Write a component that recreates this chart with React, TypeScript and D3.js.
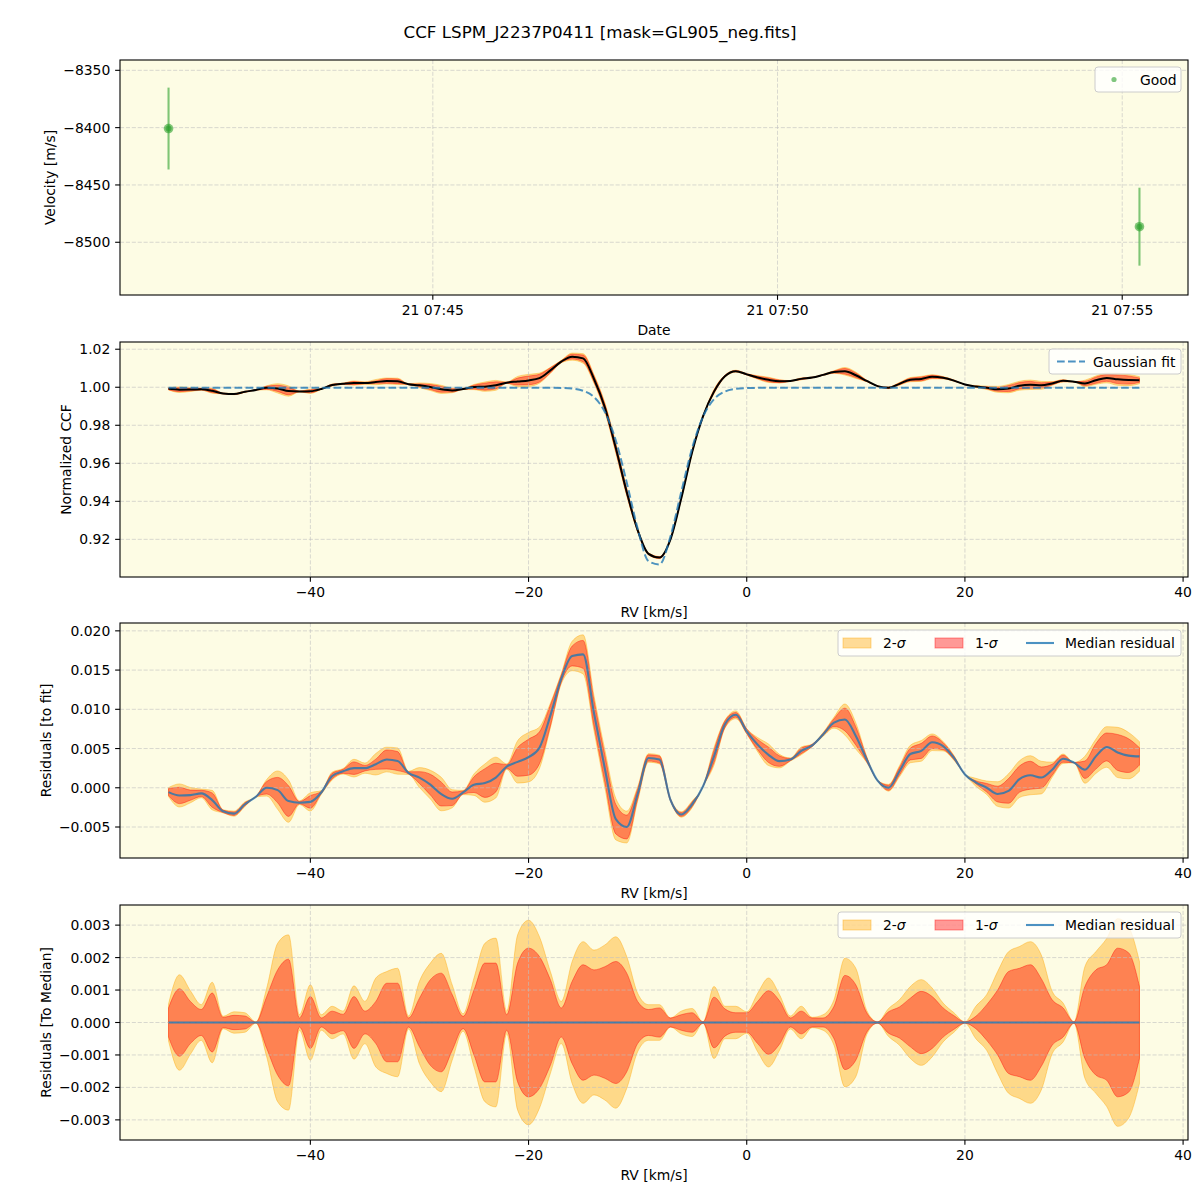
import React from 'react';
import * as d3 from 'd3';

// ---------------- DATA ----------------
const rv = [
  -53, -52, -51, -50, -49, -48, -47, -46, -45, -44, -43, -42, -41, -40, -39, -38, -37, -36,
  -35, -34, -33, -32, -31, -30, -29, -28, -27, -26, -25, -24, -23, -22, -21, -20, -19, -18,
  -17, -16, -15, -14, -13, -12, -11, -10, -9, -8, -7, -6, -5, -4, -3, -2, -1, 0,
  1, 2, 3, 4, 5, 6, 7, 8, 9, 10, 11, 12, 13, 14, 15, 16, 17, 18,
  19, 20, 21, 22, 23, 24, 25, 26, 27, 28, 29, 30, 31, 32, 33, 34, 35, 36,
];

const medianResidual = [
  -0.00055, -0.00098, -0.00094, -0.00072, -0.00157, -0.0030, -0.0033, -0.0021, -0.00115, 0.0, -0.0003, -0.0017, -0.0019, -0.0018, -0.0006, 0.0015, 0.0021, 0.0025,
  0.0025, 0.0030, 0.0036, 0.0034, 0.0019, 0.0013, 0.0004, -0.0008, -0.0014, -0.0006, 0.0004, 0.0006, 0.0013, 0.0027, 0.0033, 0.0039, 0.0051, 0.0092,
  0.0139, 0.0168, 0.0170, 0.0095, 0.0024, -0.0040, -0.0050, -0.0008, 0.0038, 0.0036, -0.0015, -0.0034, -0.0021, 0.0002, 0.0040, 0.0081, 0.0093, 0.0072,
  0.0055, 0.0042, 0.0034, 0.0036, 0.0047, 0.0054, 0.0068, 0.0083, 0.0087, 0.0066, 0.0036, 0.0009, 0.0, 0.0021, 0.0043, 0.0047, 0.0058, 0.0053,
  0.0038, 0.0017, 0.0007, 0.0, -0.0008, -0.0004, 0.0011, 0.0016, 0.0013, 0.0023, 0.0037, 0.0032, 0.0023, 0.0040, 0.0052, 0.0045, 0.0041, 0.0040,
];

const sigma1 = [
  0.00045, 0.00104, 0.00065, 0.0004, 0.00091, 0.00016, 0.00022, 0.0002, 0.00001, 0.0008, 0.00162, 0.00195, 0.00014, 0.0008, 0.00014, 0.00035, 0.00025, 0.0008,
  0.00035, 0.00065, 0.00121, 0.00121, 0.00014, 0.00075, 0.00132, 0.00152, 0.00086, 0.00019, 0.001, 0.00183, 0.00183, 0.00024, 0.00183, 0.00229, 0.00203, 0.00132,
  0.00045, 0.00127, 0.00178, 0.00162, 0.00172, 0.00188, 0.00152, 0.00065, 0.0004, 0.00045, 0.00014, 0.00024, 0.0003, 0.00002, 0.00078, 0.00042, 0.0003, 0.0003,
  0.00065, 0.00098, 0.00067, 0.00014, 0.00035, 0.00014, 0.00014, 0.0005, 0.00145, 0.00116, 0.0003, 0.00002, 0.00033, 0.00048, 0.00075, 0.00096, 0.0008, 0.00045,
  0.00021, 0.00002, 0.00019, 0.00055, 0.001, 0.00157, 0.00167, 0.00178, 0.00135, 0.0007, 0.00045, 0.00002, 0.00111, 0.00162, 0.00178, 0.00229, 0.00215, 0.00111,
];

const sigma2 = [
  0.00057, 0.00147, 0.00098, 0.00055, 0.00124, 0.00019, 0.00033, 0.0003, 0.00002, 0.00106, 0.00244, 0.0027, 0.00024, 0.00116, 0.00024, 0.0005, 0.00035, 0.00113,
  0.00065, 0.00137, 0.00157, 0.00167, 0.0002, 0.00127, 0.00183, 0.00213, 0.00116, 0.00027, 0.00137, 0.00244, 0.0026, 0.00035, 0.0027, 0.00315, 0.00264, 0.00157,
  0.00065, 0.00188, 0.00249, 0.00223, 0.00239, 0.00264, 0.00203, 0.0009, 0.00055, 0.00055, 0.00014, 0.00035, 0.00043, 0.00002, 0.00111, 0.0005, 0.0005, 0.00033,
  0.0009, 0.00137, 0.00086, 0.0002, 0.0005, 0.00016, 0.00024, 0.0007, 0.00198, 0.00167, 0.00037, 0.00002, 0.00043, 0.0007, 0.00111, 0.00132, 0.00106, 0.0006,
  0.0003, 0.00002, 0.0005, 0.00086, 0.00157, 0.00218, 0.00234, 0.00249, 0.00208, 0.00096, 0.0006, 0.00002, 0.00172, 0.00218, 0.00259, 0.0032, 0.00295, 0.00188,
];

// Gaussian fit parameters
const gaussAmp = 0.0943;
const gaussCenter = -8.4;
const gaussWidth = 2.3;
const gaussOffset = 0.9997;

// Velocity time series
const obsTimes = ['2019-10-21T07:41:10Z', '2019-10-21T07:55:15Z'];
const obsVelocity = [-8400.8, -8486.4];
const obsError = [35.7, 34.0];

// Tick values
const velTicks = [-8500, -8450, -8400, -8350];
const ccfTicks = [0.92, 0.94, 0.96, 0.98, 1.0, 1.02];
const resTicks = [-0.005, 0, 0.005, 0.01, 0.015, 0.02];
const medTicks = [-0.003, -0.002, -0.001, 0, 0.001, 0.002, 0.003];
const rvTicks = [-40, -20, 0, 20, 40];

// ---------------- LAYOUT ----------------
const W = 1200;
const H = 1200;
const L = 120;
const R = 1188;
const PH = 235;
const tops = [60, 342, 623, 905];
const FONT = '"DejaVu Sans", sans-serif';
const BG = '#fdfce4';
const FS = 13.9;
const TICK = 4.86;
const PAD = 9.7;
const ORANGE = '#ffa500';
const RED = '#ff0000';
const BLUE = '#1f77b4';
const GREEN = '#2ca02c';
const GRID = '#c0c0c0';
const CURVE = d3.curveMonotoneX;

const gauss = (v: number) =>
  gaussOffset - gaussAmp * Math.exp(-((v - gaussCenter) ** 2) / (2 * gaussWidth * gaussWidth));

const xRV = d3.scaleLinear().domain([-57.45, 40.45]).range([L, R]);

function Frame({ top }: { top: number }) {
  return <rect x={L} y={top} width={R - L} height={PH} fill="none" stroke="#000" strokeWidth={1.1} />;
}

function YAxis({ y, ticks, fmt }: { y: any; ticks: number[]; fmt: (n: number) => string }) {
  return (
    <g>
      {ticks.map((t) => (
        <g key={t}>
          <line x1={L} x2={R} y1={y(t)} y2={y(t)} stroke={GRID} strokeOpacity={0.75} strokeWidth={0.8} strokeDasharray="4.1,1.8" />
          <line x1={L - TICK} x2={L} y1={y(t)} y2={y(t)} stroke="#000" strokeWidth={1.1} />
          <text x={L - PAD} y={y(t)} textAnchor="end" dominantBaseline="central" fontSize={FS}>
            {fmt(t)}
          </text>
        </g>
      ))}
    </g>
  );
}

function XAxis({ x, ticks, fmt, top }: { x: any; ticks: any[]; fmt: (n: any) => string; top: number }) {
  const bottom = top + PH;
  return (
    <g>
      {ticks.map((t, i) => (
        <g key={i}>
          <line x1={x(t)} x2={x(t)} y1={top} y2={bottom} stroke={GRID} strokeOpacity={0.75} strokeWidth={0.8} strokeDasharray="4.1,1.8" />
          <line x1={x(t)} x2={x(t)} y1={bottom} y2={bottom + TICK} stroke="#000" strokeWidth={1.1} />
          <text x={x(t)} y={bottom + PAD} textAnchor="middle" dominantBaseline="hanging" fontSize={FS}>
            {fmt(t)}
          </text>
        </g>
      ))}
    </g>
  );
}

function Bands({ y, center }: { y: any; center: number[] }) {
  const idx = d3.range(rv.length);
  const a2 = d3
    .area<number>()
    .curve(CURVE)
    .x((i) => xRV(rv[i]))
    .y0((i) => y(center[i] - sigma2[i]))
    .y1((i) => y(center[i] + sigma2[i]));
  const a1 = d3
    .area<number>()
    .curve(CURVE)
    .x((i) => xRV(rv[i]))
    .y0((i) => y(center[i] - sigma1[i]))
    .y1((i) => y(center[i] + sigma1[i]));
  return (
    <g>
      <path d={a2(idx) || ''} fill={ORANGE} fillOpacity={0.4} stroke={ORANGE} strokeOpacity={0.4} strokeWidth={1} />
      <path d={a1(idx) || ''} fill={RED} fillOpacity={0.4} stroke={RED} strokeOpacity={0.4} strokeWidth={1} />
    </g>
  );
}

function SigmaLegend({ top }: { top: number }) {
  const y0 = top + 7;
  const cy = y0 + 13;
  return (
    <g>
      <rect x={838} y={y0} width={343} height={26} rx={3} fill="#fff" fillOpacity={0.8} stroke="#cccccc" strokeWidth={1} />
      <rect x={843} y={cy - 5} width={28} height={10} fill={ORANGE} fillOpacity={0.4} stroke={ORANGE} strokeOpacity={0.4} />
      <text x={883} y={cy} dominantBaseline="central" fontSize={FS}>
        2-<tspan fontStyle="italic">σ</tspan>
      </text>
      <rect x={935} y={cy - 5} width={28} height={10} fill={RED} fillOpacity={0.4} stroke={RED} strokeOpacity={0.4} />
      <text x={975} y={cy} dominantBaseline="central" fontSize={FS}>
        1-<tspan fontStyle="italic">σ</tspan>
      </text>
      <line x1={1026} x2={1054} y1={cy} y2={cy} stroke={BLUE} strokeOpacity={0.8} strokeWidth={2.1} />
      <text x={1065} y={cy} dominantBaseline="central" fontSize={FS}>
        Median residual
      </text>
    </g>
  );
}

export default function App() {
  // ---- panel 1 ----
  const times = obsTimes.map((t) => new Date(t));
  const tExt = d3.extent(times) as [Date, Date];
  const span = tExt[1].getTime() - tExt[0].getTime();
  const xTime = d3
    .scaleUtc()
    .domain([new Date(tExt[0].getTime() - 0.05 * span), new Date(tExt[1].getTime() + 0.05 * span)])
    .range([L, R]);
  const timeTicks = xTime.ticks(d3.utcMinute.every(5) as any);
  const yVel = d3.scaleLinear().domain([-8546, -8341]).range([tops[0] + PH, tops[0]]);

  // ---- panel 2 ----
  const ccf = rv.map((v, i) => gauss(v) + medianResidual[i]);
  const fit = rv.map((v) => gauss(v));
  const yCCF = d3.scaleLinear().domain([0.9002, 1.0238]).range([tops[1] + PH, tops[1]]);
  // ---- panel 3 ----
  const yRes = d3.scaleLinear().domain([-0.00895, 0.021]).range([tops[2] + PH, tops[2]]);
  // ---- panel 4 ----
  const yMed = d3.scaleLinear().domain([-0.00362, 0.00362]).range([tops[3] + PH, tops[3]]);
  const zeros = rv.map(() => 0);

  const lineOf = (y: any, vals: number[]) =>
    d3
      .line<number>()
      .curve(CURVE)
      .x((i) => xRV(rv[i]))
      .y((i) => y(vals[i]))(d3.range(rv.length)) || '';

  const fmtRV = d3.format('d');

  return (
    <svg
      width={W}
      height={H}
      style={{ position: 'absolute', left: 0, top: 0, background: '#fff' }}
      fontFamily={FONT}
      fill="#000"
    >
      <rect x={0} y={0} width={W} height={H} fill="#fff" />
      <text x={600} y={32} textAnchor="middle" dominantBaseline="central" fontSize={16.7}>
        CCF LSPM_J2237P0411 [mask=GL905_neg.fits]
      </text>

      {/* backgrounds */}
      {tops.map((t) => (
        <rect key={t} x={L} y={t} width={R - L} height={PH} fill={BG} />
      ))}

      {/* ---------- Panel 1 ---------- */}
      <g>
        <YAxis y={yVel} ticks={velTicks} fmt={d3.format('d')} />
        <XAxis x={xTime} ticks={timeTicks} fmt={d3.utcFormat('%d %H:%M') as any} top={tops[0]} />
        {times.map((t, i) => (
          <g key={i}>
            <line
              x1={xTime(t)}
              x2={xTime(t)}
              y1={yVel(obsVelocity[i] - obsError[i])}
              y2={yVel(obsVelocity[i] + obsError[i])}
              stroke={GREEN}
              strokeOpacity={0.6}
              strokeWidth={2.1}
            />
            <circle cx={xTime(t)} cy={yVel(obsVelocity[i])} r={4.8} fill={GREEN} fillOpacity={0.6} />
            <circle cx={xTime(t)} cy={yVel(obsVelocity[i])} r={3} fill={GREEN} fillOpacity={0.6} />
          </g>
        ))}
        <rect x={1095} y={67} width={86} height={25} rx={3} fill="#fff" fillOpacity={0.8} stroke="#cccccc" strokeWidth={1} />
        <circle cx={1114} cy={79.5} r={2.6} fill={GREEN} fillOpacity={0.6} />
        <text x={1140} y={79.5} dominantBaseline="central" fontSize={FS}>
          Good
        </text>
        <Frame top={tops[0]} />
        <text x={654} y={330} textAnchor="middle" dominantBaseline="central" fontSize={FS}>
          Date
        </text>
        <text
          transform={`translate(50,${tops[0] + PH / 2}) rotate(-90)`}
          textAnchor="middle"
          dominantBaseline="central"
          fontSize={FS}
        >
          Velocity [m/s]
        </text>
      </g>

      {/* ---------- Panel 2 ---------- */}
      <g>
        <Bands y={yCCF} center={ccf} />
        <YAxis y={yCCF} ticks={ccfTicks} fmt={d3.format('.2f')} />
        <XAxis x={xRV} ticks={rvTicks} fmt={fmtRV} top={tops[1]} />
        <path d={lineOf(yCCF, ccf)} fill="none" stroke="#000" strokeWidth={2} />
        <path d={lineOf(yCCF, fit)} fill="none" stroke={BLUE} strokeOpacity={0.8} strokeWidth={2} strokeDasharray="7.7,3.3" />
        <rect x={1049} y={349} width={132} height={25} rx={3} fill="#fff" fillOpacity={0.8} stroke="#cccccc" strokeWidth={1} />
        <line x1={1057} x2={1085} y1={361.5} y2={361.5} stroke={BLUE} strokeOpacity={0.8} strokeWidth={2} strokeDasharray="7.7,3.3" />
        <text x={1093} y={361.5} dominantBaseline="central" fontSize={FS}>
          Gaussian fit
        </text>
        <Frame top={tops[1]} />
        <text x={654} y={612} textAnchor="middle" dominantBaseline="central" fontSize={FS}>
          RV [km/s]
        </text>
        <text
          transform={`translate(66,${tops[1] + PH / 2}) rotate(-90)`}
          textAnchor="middle"
          dominantBaseline="central"
          fontSize={FS}
        >
          Normalized CCF
        </text>
      </g>

      {/* ---------- Panel 3 ---------- */}
      <g>
        <Bands y={yRes} center={medianResidual} />
        <YAxis y={yRes} ticks={resTicks} fmt={d3.format('.3f')} />
        <XAxis x={xRV} ticks={rvTicks} fmt={fmtRV} top={tops[2]} />
        <path d={lineOf(yRes, medianResidual)} fill="none" stroke={BLUE} strokeOpacity={0.8} strokeWidth={2.1} />
        <SigmaLegend top={tops[2]} />
        <Frame top={tops[2]} />
        <text x={654} y={893} textAnchor="middle" dominantBaseline="central" fontSize={FS}>
          RV [km/s]
        </text>
        <text
          transform={`translate(46,${tops[2] + PH / 2}) rotate(-90)`}
          textAnchor="middle"
          dominantBaseline="central"
          fontSize={FS}
        >
          Residuals [to fit]
        </text>
      </g>

      {/* ---------- Panel 4 ---------- */}
      <g>
        <Bands y={yMed} center={zeros} />
        <YAxis y={yMed} ticks={medTicks} fmt={d3.format('.3f')} />
        <XAxis x={xRV} ticks={rvTicks} fmt={fmtRV} top={tops[3]} />
        <path d={lineOf(yMed, zeros)} fill="none" stroke={BLUE} strokeOpacity={0.8} strokeWidth={2.1} />
        <SigmaLegend top={tops[3]} />
        <Frame top={tops[3]} />
        <text x={654} y={1175} textAnchor="middle" dominantBaseline="central" fontSize={FS}>
          RV [km/s]
        </text>
        <text
          transform={`translate(46,${tops[3] + PH / 2}) rotate(-90)`}
          textAnchor="middle"
          dominantBaseline="central"
          fontSize={FS}
        >
          Residuals [To Median]
        </text>
      </g>
    </svg>
  );
}
